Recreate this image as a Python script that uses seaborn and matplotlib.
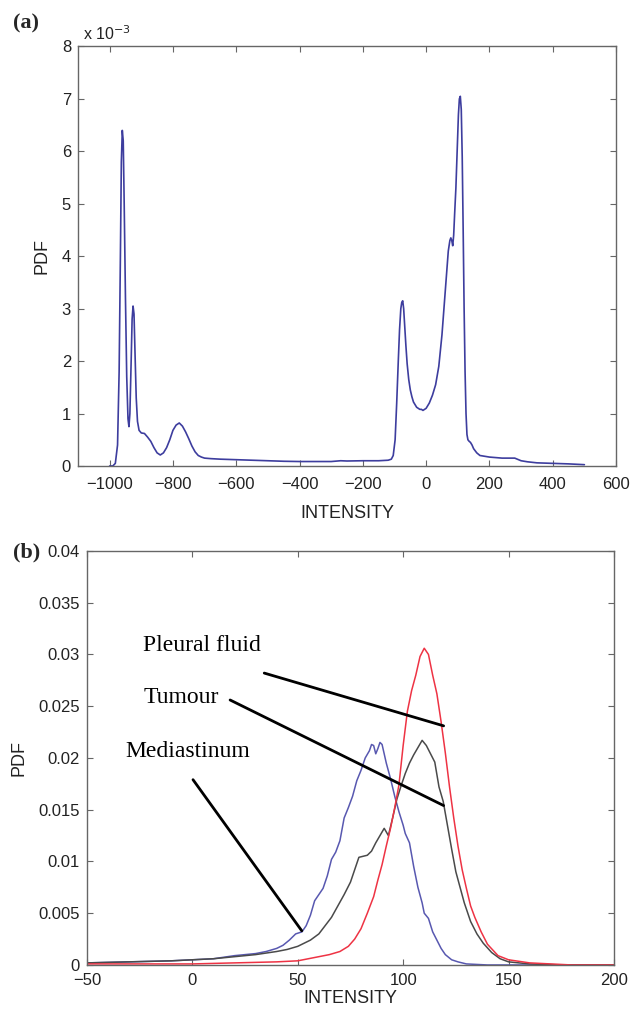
import pandas as pd
import matplotlib
matplotlib.use("Agg")
import matplotlib.pyplot as plt
import seaborn as sns

# (a) whole-volume histogram, PDF in units of 1e-3
intensity_a = [-1000, -990, -982, -975, -970, -966, -963, -960, -957, -954,
               -950, -946, -942, -939, -936, -932, -929, -926, -923, -920,
               -916, -912, -907, -900, -890, -880, -870, -860, -850, -840,
               -830, -820, -810, -800, -790, -780, -770, -760, -750, -740,
               -730, -720, -710, -700, -680, -650, -600, -550, -500, -450,
               -400, -350, -300, -270, -250, -200, -150, -120, -110, -104,
               -98, -93, -88, -84, -80, -77, -74, -71, -68, -64,
               -60, -55, -50, -45, -40, -30, -20, -15, -10, -5,
               0, 10, 20, 30, 40, 50, 55, 60, 65, 70,
               75, 78, 81, 84, 87, 90, 94, 98, 102, 105,
               108, 111, 114, 117, 120, 123, 126, 129, 132, 136,
               140, 145, 150, 160, 170, 180, 200, 220, 240, 260,
               280, 300, 320, 350, 400, 450, 500]
pdf_a = [0, 0, 0.05, 0.4, 1.8, 4.0, 5.8, 6.4, 6.2, 5.0,
         3.2, 1.7, 0.9, 0.75, 1.0, 2.0, 2.8, 3.05, 2.9, 2.2,
         1.3, 0.85, 0.68, 0.63, 0.62, 0.55, 0.47, 0.35, 0.25, 0.21,
         0.25, 0.35, 0.5, 0.68, 0.78, 0.82, 0.76, 0.65, 0.52, 0.38,
         0.27, 0.2, 0.17, 0.15, 0.14, 0.13, 0.12, 0.11, 0.1, 0.09,
         0.085, 0.085, 0.085, 0.1, 0.095, 0.1, 0.1, 0.11, 0.13, 0.2,
         0.5, 1.2, 2.0, 2.6, 3.0, 3.12, 3.15, 3.0, 2.7, 2.3,
         1.95, 1.65, 1.45, 1.32, 1.22, 1.12, 1.08, 1.08, 1.06, 1.08,
         1.1, 1.2, 1.35, 1.55, 1.9, 2.5, 2.9, 3.3, 3.7, 4.1,
         4.3, 4.35, 4.3, 4.2, 4.4, 4.8, 5.3, 6.0, 6.7, 7.0,
         7.05, 6.8, 5.9, 4.5, 3.0, 1.8, 1.0, 0.6, 0.5, 0.47,
         0.45, 0.4, 0.33, 0.25, 0.2, 0.19, 0.17, 0.16, 0.15, 0.15,
         0.15, 0.1, 0.08, 0.06, 0.05, 0.04, 0.025]

# (b) tissue histograms
med_x = [-50, -30, -10, 0, 10, 20, 25, 30, 35, 40,
         43, 46, 49, 52, 54, 56, 58, 60, 62, 64,
         66, 68, 70, 72, 74, 76, 78, 80, 82, 84,
         85, 86, 87, 88, 89, 90, 92, 94, 96, 98,
         100, 101, 103, 105, 107, 109, 110, 112, 114, 116,
         118, 120, 123, 126, 130, 140, 200]
med_y = [0.0002, 0.0003, 0.0004, 0.0005, 0.0006, 0.0009, 0.001, 0.0011, 0.0013, 0.0016,
         0.0019, 0.0024, 0.003, 0.0032, 0.0038, 0.0048, 0.0062, 0.0068, 0.0074, 0.0086,
         0.0102, 0.0109, 0.012, 0.0142, 0.0152, 0.0163, 0.0178, 0.0188, 0.02, 0.0207,
         0.0213, 0.0212, 0.0204, 0.0209, 0.0215, 0.0213, 0.0195, 0.018, 0.0163, 0.0148,
         0.0135, 0.0127, 0.0118, 0.0095, 0.0075, 0.006, 0.005, 0.0045, 0.0032, 0.0024,
         0.0016, 0.001, 0.0005, 0.0003, 0.0001, 0.0, 0.0]

tum_x = [-50, -30, -10, 0, 10, 20, 30, 40, 45, 50,
         53, 56, 60, 63, 66, 69, 72, 75, 77, 79,
         81, 83, 85, 87, 89, 91, 93, 95, 97, 99,
         101, 103, 105, 107, 109, 111, 113, 115, 117, 119,
         121, 123, 125, 127, 129, 132, 135, 138, 142, 146,
         150, 160, 175, 200]
tum_y = [0.0002, 0.0003, 0.0004, 0.0005, 0.0006, 0.0008, 0.001, 0.0013, 0.0015, 0.0018,
         0.0021, 0.0024, 0.003, 0.0038, 0.0046, 0.0057, 0.0068, 0.008, 0.0092, 0.0104,
         0.0105, 0.0106, 0.011, 0.0118, 0.0125, 0.0132, 0.0125, 0.0142, 0.016, 0.0173,
         0.0185, 0.0195, 0.0203, 0.021, 0.0217, 0.0212, 0.0204, 0.0196, 0.0172, 0.0158,
         0.0135, 0.0112, 0.009, 0.0075, 0.006, 0.0042, 0.003, 0.0021, 0.0012, 0.0006,
         0.0003, 0.0001, 0.0, 0.0]

pf_x = [-50, 0, 20, 40, 50, 55, 60, 65, 70, 74,
        77, 80, 83, 86, 88, 90, 92, 94, 96, 98,
        100, 102, 104, 106, 108, 110, 112, 114, 116, 118,
        120, 122, 124, 126, 128, 130, 132, 134, 137, 140,
        145, 150, 160, 170, 180, 200]
pf_y = [0.0001, 0.0001, 0.0002, 0.0003, 0.0004, 0.0006, 0.0008, 0.001, 0.0013, 0.0018,
        0.0025, 0.0035, 0.005, 0.0066, 0.0082, 0.0097, 0.0115, 0.0132, 0.0152, 0.0174,
        0.0212, 0.0245, 0.0265, 0.028, 0.0298, 0.0306, 0.03, 0.028, 0.0262, 0.0235,
        0.0205, 0.0172, 0.0142, 0.0115, 0.0092, 0.0074, 0.0057, 0.0046, 0.0032, 0.002,
        0.0009, 0.0005, 0.0002, 0.0001, 0.0, 0.0]

# label text, label anchor, leader line start, leader line end
labels = ["Pleural fluid", "Tumour", "Mediastinum"]
label_pos = [(-23.5, 0.0309), (-23.2, 0.0258), (-31.8, 0.0206)]
leader_start = [(34.1, 0.0282), (17.9, 0.0256), (0.3, 0.0179)]
leader_end = [(119.2, 0.0231), (119.2, 0.0154), (51.9, 0.0033)]

sns.set_style("ticks")
plt.rcParams["font.family"] = ["Liberation Sans", "DejaVu Sans"]
plt.rcParams["axes.edgecolor"] = "#666666"
plt.rcParams["xtick.color"] = "#666666"
plt.rcParams["ytick.color"] = "#666666"
plt.rcParams["xtick.labelcolor"] = "#222222"
plt.rcParams["ytick.labelcolor"] = "#222222"

fig = plt.figure(figsize=(6.33, 10.15), dpi=100)
ax1 = fig.add_axes([0.1232, 0.5409, 0.850, 0.4133])
ax2 = fig.add_axes([0.1374, 0.0493, 0.8325, 0.4079])

df_a = pd.DataFrame({"INTENSITY": intensity_a, "PDF": pdf_a})
sns.lineplot(data=df_a, x="INTENSITY", y="PDF", ax=ax1, color="#3d3d9e", linewidth=1.2)
ax1.set_xlim(-1100, 600)
ax1.set_ylim(0, 8)
ax1.set_xticks(range(-1000, 601, 200))
ax1.set_yticks(range(0, 9))
ax1.text(-1085, 8.12, r"x 10$^{-3}$", fontsize=11.5, color="#222222")

df_med = pd.DataFrame({"INTENSITY": med_x, "PDF": med_y})
df_tum = pd.DataFrame({"INTENSITY": tum_x, "PDF": tum_y})
df_pf = pd.DataFrame({"INTENSITY": pf_x, "PDF": pf_y})
sns.lineplot(data=df_med, x="INTENSITY", y="PDF", ax=ax2, color="#5858b0", linewidth=1.1)
sns.lineplot(data=df_tum, x="INTENSITY", y="PDF", ax=ax2, color="#4a4a4a", linewidth=1.1)
sns.lineplot(data=df_pf, x="INTENSITY", y="PDF", ax=ax2, color="#ee3344", linewidth=1.1)
ax2.set_xlim(-50, 200)
ax2.set_ylim(0, 0.04)
ax2.set_xticks(range(-50, 201, 50))
ax2.set_yticks([0, 0.005, 0.01, 0.015, 0.02, 0.025, 0.03, 0.035, 0.04])
ax2.set_yticklabels(["0", "0.005", "0.01", "0.015", "0.02", "0.025", "0.03", "0.035", "0.04"])

for lab, pos, p0, p1 in zip(labels, label_pos, leader_start, leader_end):
    ax2.text(pos[0], pos[1], lab, fontsize=17, family="Liberation Serif",
             va="center", ha="left", color="black")
    ax2.plot([p0[0], p1[0]], [p0[1], p1[1]], color="black", linewidth=2.0)

for ax in (ax1, ax2):
    ax.tick_params(direction="in", length=4, width=0.8, labelsize=12,
                   top=True, right=True)
    ax.tick_params(axis="y", pad=5)
    for s in ax.spines.values():
        s.set_linewidth(1.0)
    ax.set_ylabel("PDF", fontsize=13, color="#222222", labelpad=8)

ax1.tick_params(axis="x", pad=8)
ax1.set_xlabel("INTENSITY", fontsize=13, color="#222222", labelpad=9)
ax2.tick_params(axis="x", pad=6)
ax2.set_xlabel("INTENSITY", fontsize=13, color="#222222", labelpad=1)

fig.text(0.02, 0.977, "(a)", fontsize=16, fontweight="bold",
         family="Liberation Serif", va="center")
fig.text(0.02, 0.456, "(b)", fontsize=16, fontweight="bold",
         family="Liberation Serif", va="center")

fig.savefig("out.png", dpi=100)
